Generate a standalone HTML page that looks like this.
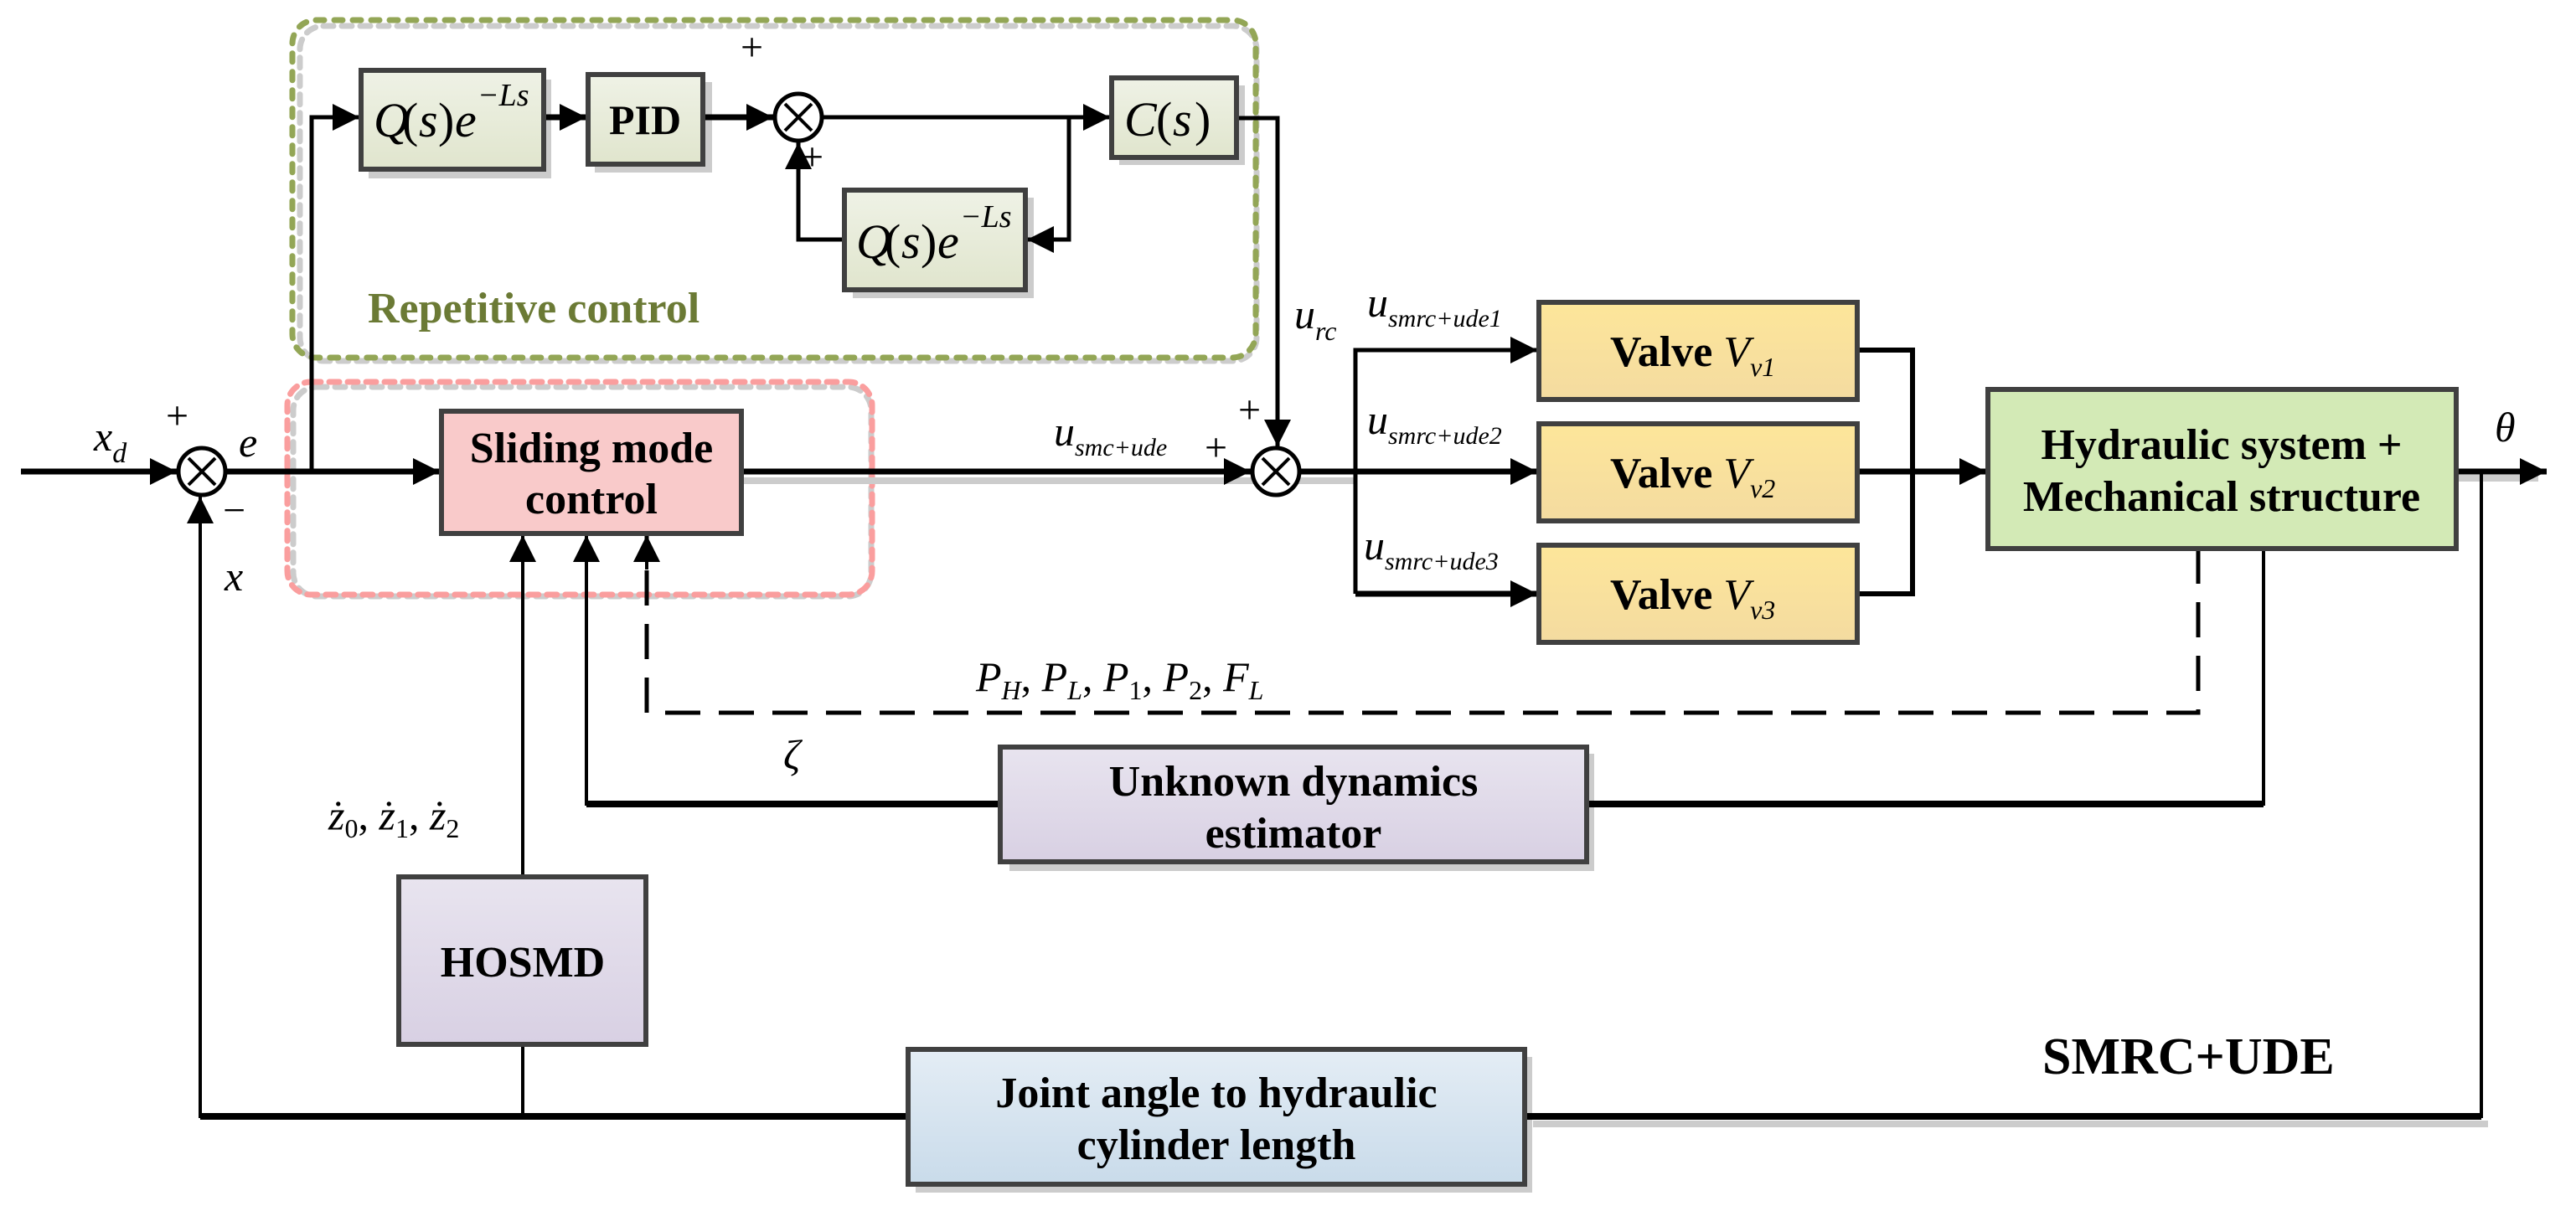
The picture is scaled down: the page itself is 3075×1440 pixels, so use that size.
<!DOCTYPE html>
<html><head><meta charset="utf-8"><style>
html,body{margin:0;padding:0;background:#fff}
svg{display:block}
text{font-family:"Liberation Serif",serif}
.b{font-weight:bold}
.i{font-style:italic}
</style></head><body>
<svg width="3075" height="1440" viewBox="0 0 3075 1440" xmlns="http://www.w3.org/2000/svg">
<defs>
<linearGradient id="gq" x1="0" y1="0" x2="0" y2="1"><stop offset="0" stop-color="#eff2e6"/><stop offset="1" stop-color="#e0e5cd"/></linearGradient>
<linearGradient id="gv" x1="0" y1="0" x2="0" y2="1"><stop offset="0" stop-color="#fde69a"/><stop offset="1" stop-color="#f4dba0"/></linearGradient>
<linearGradient id="gp" x1="0" y1="0" x2="0" y2="1"><stop offset="0" stop-color="#e8e4ef"/><stop offset="1" stop-color="#d8d0e3"/></linearGradient>
<linearGradient id="gb" x1="0" y1="0" x2="0" y2="1"><stop offset="0" stop-color="#e4edf5"/><stop offset="1" stop-color="#c9dbea"/></linearGradient>
<marker id="a" viewBox="0 0 10 10" refX="10" refY="5" markerWidth="36" markerHeight="32" markerUnits="userSpaceOnUse" orient="auto"><path d="M0,0L10,5L0,10z" fill="#000"/></marker>
</defs>

<!-- dashed group boxes -->
<rect x="358" y="31" width="1142" height="400" rx="28" fill="none" stroke="#cccccc" stroke-width="7" stroke-dasharray="12 10" stroke-linecap="round"/>
<rect x="349" y="24" width="1150" height="403" rx="28" fill="none" stroke="#93a656" stroke-width="7" stroke-dasharray="10 12" stroke-linecap="round"/>
<rect x="350" y="462" width="690" height="250" rx="28" fill="none" stroke="#cccccc" stroke-width="7" stroke-dasharray="12 10" stroke-linecap="round"/>
<rect x="343" y="456" width="698" height="254" rx="28" fill="none" stroke="#fa9e9e" stroke-width="7" stroke-dasharray="12 10" stroke-linecap="round"/>

<!-- shadows -->
<g fill="#cccccc">
<rect x="440" y="95" width="218" height="118"/>
<rect x="710" y="98" width="140" height="108"/>
<rect x="1336" y="102" width="150" height="95"/>
<rect x="1018" y="236" width="216" height="120"/>
<rect x="1205" y="900" width="698" height="140"/>
<rect x="1093" y="1262" width="736" height="162"/>
<rect x="886" y="570" width="650" height="8"/>
<rect x="1530" y="570" width="90" height="8"/>
<rect x="2935" y="567" width="95" height="8"/>
<rect x="1830" y="1338" width="1140" height="8"/>
</g>

<!-- connectors -->
<g fill="none" stroke="#000" stroke-width="7">
<path d="M25,563H211" marker-end="url(#a)"/>
<path d="M269,563H525" marker-end="url(#a)"/>
<path d="M372,563V140H429" stroke-width="5" marker-end="url(#a)"/>
<path d="M649,140H700" marker-end="url(#a)"/>
<path d="M839,140H923" marker-end="url(#a)"/>
<path d="M981,140H1325" stroke-width="5" marker-end="url(#a)"/>
<path d="M1276,140V286H1226" stroke-width="5" marker-end="url(#a)"/>
<path d="M1008,286H953V170" stroke-width="5" marker-end="url(#a)"/>
<path d="M1476,141H1525V533" stroke-width="5" marker-end="url(#a)"/>
<path d="M885,563H1493" marker-end="url(#a)"/>
<path d="M1551,563H1835" marker-end="url(#a)"/>
<path d="M1618,709V418H1835" stroke-width="5" marker-end="url(#a)"/>
<path d="M1618,709H1835" marker-end="url(#a)"/>
<path d="M2217,418H2283V709H2217" stroke-width="6"/>
<path d="M2217,563H2371" marker-end="url(#a)"/>
<path d="M2932,563H3040" marker-end="url(#a)"/>
<path d="M2962,563V1333H239V593" stroke-width="4" marker-end="url(#a)"/>
<path d="M239,1333H1084M1820,1333H2962" stroke-width="8"/>
<path d="M624,1333V1247M624,1047V639" stroke-width="4" marker-end="url(#a)"/>
<path d="M2702,655V960H1894M1194,960H700V639" stroke-width="4" marker-end="url(#a)"/>
<path d="M700,960H1194M1894,960H2702" stroke-width="8"/>
<path d="M2624,655V851H772V639" stroke-width="5" stroke-dasharray="42 22"/>
<path d="M772,680V639" stroke-width="4" marker-end="url(#a)"/>
</g>

<!-- boxes -->
<g stroke="#404040" stroke-width="6">
<rect x="431" y="84" width="218" height="118" fill="url(#gq)"/>
<rect x="702" y="89" width="137" height="107" fill="url(#gq)"/>
<rect x="1327" y="93" width="149" height="95" fill="url(#gq)"/>
<rect x="1008" y="227" width="216" height="119" fill="url(#gq)"/>
<rect x="527" y="491" width="358" height="146" fill="#f9caca"/>
<rect x="1837" y="361" width="380" height="116" fill="url(#gv)"/>
<rect x="1837" y="506" width="380" height="116" fill="url(#gv)"/>
<rect x="1837" y="651" width="380" height="116" fill="url(#gv)"/>
<rect x="2373" y="465" width="559" height="190" fill="#d3eab6"/>
<rect x="1194" y="892" width="700" height="137" fill="url(#gp)"/>
<rect x="476" y="1047" width="295" height="200" fill="url(#gp)"/>
<rect x="1084" y="1253" width="736" height="161" fill="url(#gb)"/>
</g>

<!-- summing junctions -->
<g fill="#fff" stroke="#000" stroke-width="5">
<circle cx="241" cy="563" r="28"/>
<circle cx="953" cy="140" r="28"/>
<circle cx="1523" cy="563" r="28"/>
</g>
<g stroke="#000" stroke-width="4">
<path d="M225,547L257,579M257,547L225,579"/>
<path d="M937,124L969,156M969,124L937,156"/>
<path d="M1507,547L1539,579M1539,547L1507,579"/>
</g>

<!-- labels -->
<g font-size="58" class="i">
<text x="446" y="163">Q</text>
<text x="480" y="163" font-style="normal">(</text><text x="500" y="163">s</text><text x="523" y="163" font-style="normal">)</text><text x="543" y="163">e</text>
<text x="570" y="126" font-size="38">−Ls</text>
<text x="1022" y="308">Q</text>
<text x="1056" y="308" font-style="normal">(</text><text x="1076" y="308">s</text><text x="1099" y="308" font-style="normal">)</text><text x="1119" y="308">e</text>
<text x="1146" y="271" font-size="38">−Ls</text>
<text x="1342" y="162">C</text><text x="1380" y="162" font-style="normal">(</text><text x="1400" y="162">s</text><text x="1426" y="162" font-style="normal">)</text>
</g>
<text x="770" y="160" font-size="50" class="b" text-anchor="middle">PID</text>
<text x="439" y="385" font-size="52" class="b" fill="#6b7a35">Repetitive control</text>
<text x="706" y="552" font-size="52" class="b" text-anchor="middle">Sliding mode</text>
<text x="706" y="613" font-size="52" class="b" text-anchor="middle">control</text>
<g font-size="52" class="b">
<text x="1922" y="437">Valve <tspan class="i" font-weight="normal">V</tspan><tspan class="i" font-weight="normal" font-size="32" dy="12">v1</tspan></text>
<text x="1922" y="582">Valve <tspan class="i" font-weight="normal">V</tspan><tspan class="i" font-weight="normal" font-size="32" dy="12">v2</tspan></text>
<text x="1922" y="727">Valve <tspan class="i" font-weight="normal">V</tspan><tspan class="i" font-weight="normal" font-size="32" dy="12">v3</tspan></text>
</g>
<text x="2652" y="548" font-size="52" class="b" text-anchor="middle">Hydraulic system +</text>
<text x="2652" y="610" font-size="52" class="b" text-anchor="middle">Mechanical structure</text>
<text x="1544" y="950" font-size="52" class="b" text-anchor="middle">Unknown dynamics</text>
<text x="1544" y="1012" font-size="52" class="b" text-anchor="middle">estimator</text>
<text x="624" y="1166" font-size="52" class="b" text-anchor="middle">HOSMD</text>
<text x="1452" y="1322" font-size="52" class="b" text-anchor="middle">Joint angle to hydraulic</text>
<text x="1452" y="1384" font-size="52" class="b" text-anchor="middle">cylinder length</text>
<text x="2438" y="1282" font-size="62" class="b">SMRC+UDE</text>

<g font-size="50" class="i">
<text x="112" y="538">x<tspan font-size="34" dy="14">d</tspan></text>
<text x="285" y="545">e</text>
<text x="268" y="705">x</text>
<text x="1258" y="532">u<tspan font-size="30" dy="12">smc+ude</tspan></text>
<text x="1545" y="392">u<tspan font-size="32" dy="14">rc</tspan></text>
<text x="1632" y="378">u<tspan font-size="30" dy="12">smrc+ude1</tspan></text>
<text x="1632" y="518">u<tspan font-size="30" dy="12">smrc+ude2</tspan></text>
<text x="1628" y="668">u<tspan font-size="30" dy="12">smrc+ude3</tspan></text>
<text x="2978" y="527">θ</text>
<text x="1165" y="825">P<tspan font-size="32" dy="10">H</tspan><tspan dy="-10" font-style="normal">, </tspan>P<tspan font-size="32" dy="10">L</tspan><tspan dy="-10" font-style="normal">, </tspan>P<tspan font-size="32" dy="10" font-style="normal">1</tspan><tspan dy="-10" font-style="normal">, </tspan>P<tspan font-size="32" dy="10" font-style="normal">2</tspan><tspan dy="-10" font-style="normal">, </tspan>F<tspan font-size="32" dy="10">L</tspan></text>
<text x="935" y="918">ζ</text>
<text x="392" y="990">ż<tspan font-size="32" dy="10" font-style="normal">0</tspan><tspan dy="-10" font-style="normal">, </tspan>ż<tspan font-size="32" dy="10" font-style="normal">1</tspan><tspan dy="-10" font-style="normal">, </tspan>ż<tspan font-size="32" dy="10" font-style="normal">2</tspan></text>
</g>
<g font-size="48">
<text x="198" y="512">+</text>
<text x="266" y="625">−</text>
<text x="884" y="72">+</text>
<text x="956" y="203">+</text>
<text x="1478" y="505">+</text>
<text x="1438" y="550">+</text>
</g>
</svg>
</body></html>
